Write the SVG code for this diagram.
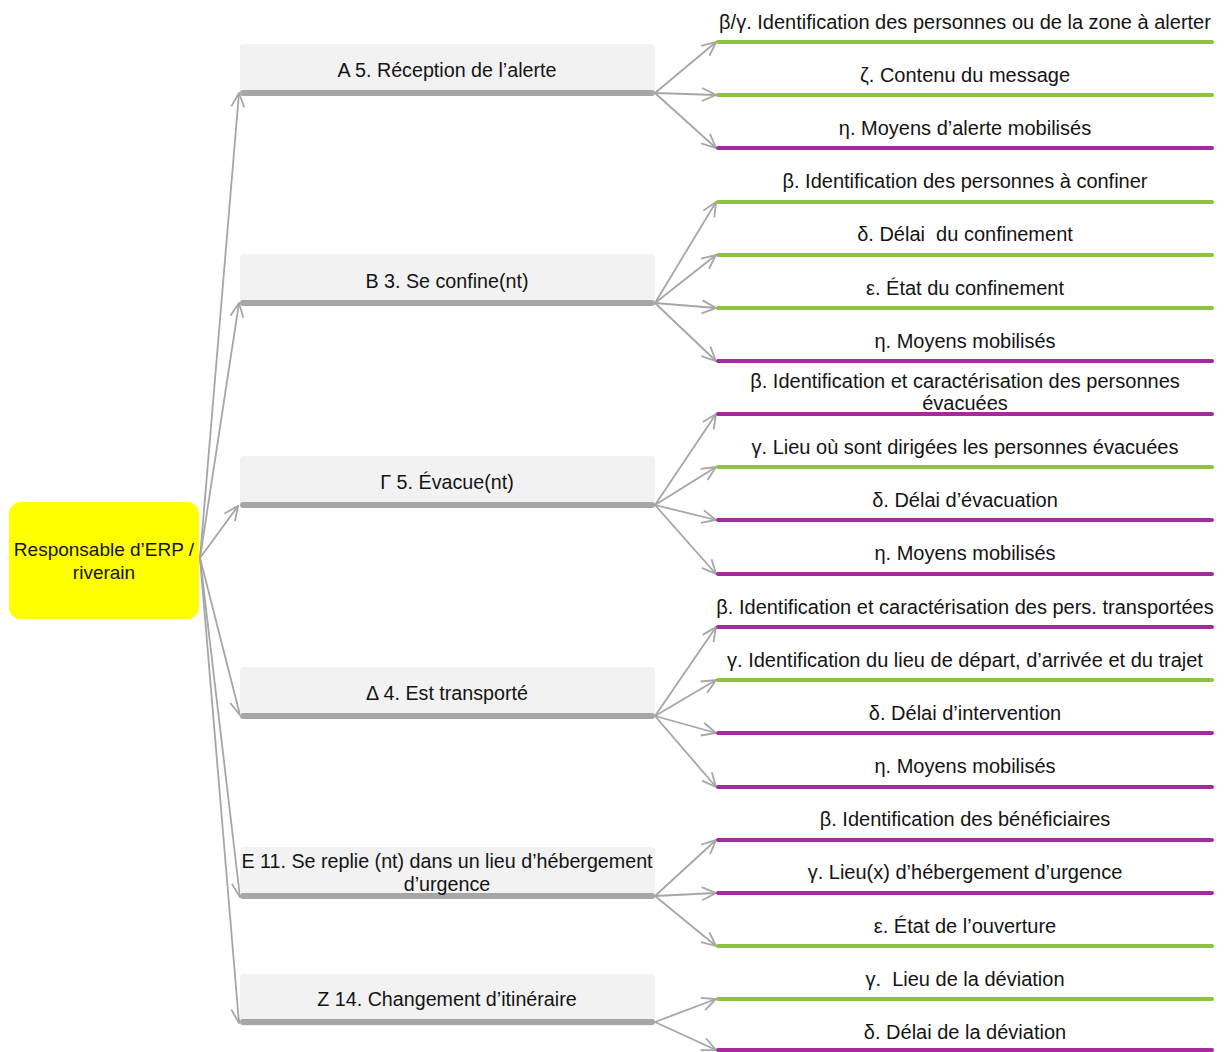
<svg xmlns="http://www.w3.org/2000/svg" width="1224" height="1052" viewBox="0 0 1224 1052">
<defs>
<marker id="arr" markerUnits="userSpaceOnUse" viewBox="0 0 16 16" refX="15" refY="8" markerWidth="16" markerHeight="16" orient="auto">
<path d="M1,1.5 L15,8 L1,14.5" fill="none" stroke="#a6a6a6" stroke-width="1.8"/>
</marker>
<style>
text{font-family:"Liberation Sans",Arial,sans-serif;fill:#141414;text-anchor:middle}
.lv1 rect.bg{fill:#f2f2f2}
.lv1 rect.bar{fill:#a6a6a6}
.lv1 text{font-size:19.7px}
.leaf text{font-size:20px}
.g{stroke:#8dc43f;stroke-width:4;stroke-linecap:round}
.p{stroke:#a32a9f;stroke-width:4;stroke-linecap:round}
.c line{stroke:#a6a6a6;stroke-width:1.8;marker-end:url(#arr)}
</style>
</defs>
<rect width="1224" height="1052" fill="#ffffff"/>

<g id="connectors" class="c">
<line x1="200" y1="558" x2="239" y2="93"/>
<line x1="200" y1="558" x2="239" y2="303"/>
<line x1="200" y1="558" x2="238" y2="506"/>
<line x1="200" y1="558" x2="240" y2="715"/>
<line x1="200" y1="558" x2="240" y2="897"/>
<line x1="200" y1="558" x2="239" y2="1023"/>

<line x1="655" y1="93" x2="716" y2="42"/>
<line x1="655" y1="93" x2="716" y2="95"/>
<line x1="655" y1="93" x2="716" y2="148"/>

<line x1="655" y1="303" x2="716" y2="202"/>
<line x1="655" y1="303" x2="716" y2="255"/>
<line x1="655" y1="303" x2="716" y2="308"/>
<line x1="655" y1="303" x2="716" y2="361"/>

<line x1="655" y1="505" x2="716" y2="414"/>
<line x1="655" y1="505" x2="716" y2="467"/>
<line x1="655" y1="505" x2="716" y2="520"/>
<line x1="655" y1="505" x2="716" y2="574"/>

<line x1="655" y1="716" x2="716" y2="627"/>
<line x1="655" y1="716" x2="716" y2="680"/>
<line x1="655" y1="716" x2="716" y2="733"/>
<line x1="655" y1="716" x2="716" y2="787"/>

<line x1="655" y1="896" x2="716" y2="840"/>
<line x1="655" y1="896" x2="716" y2="893"/>
<line x1="655" y1="896" x2="716" y2="946"/>

<line x1="655" y1="1022" x2="716" y2="999"/>
<line x1="655" y1="1022" x2="716" y2="1050"/>
</g>

<g id="root">
<rect x="9" y="502" width="190" height="117" rx="12" fill="#ffff00"/>
<text x="104" y="556" font-size="19">Responsable d’ERP /</text>
<text x="104" y="579" font-size="19">riverain</text>
</g>

<g id="nA" class="lv1"><rect class="bg" x="240" y="44" width="415" height="52" rx="4"/><rect class="bar" x="240" y="90" width="415" height="6" rx="3"/><text x="447" y="77">A 5. Réception de l’alerte</text></g>
<g id="nB" class="lv1"><rect class="bg" x="240" y="254" width="415" height="52" rx="4"/><rect class="bar" x="240" y="300" width="415" height="6" rx="3"/><text x="447" y="288">B 3. Se confine(nt)</text></g>
<g id="nG" class="lv1"><rect class="bg" x="240" y="456" width="415" height="52" rx="4"/><rect class="bar" x="240" y="502" width="415" height="6" rx="3"/><text x="447" y="489">Γ 5. Évacue(nt)</text></g>
<g id="nD" class="lv1"><rect class="bg" x="240" y="667" width="415" height="52" rx="4"/><rect class="bar" x="240" y="713" width="415" height="6" rx="3"/><text x="447" y="700">Δ 4. Est transporté</text></g>
<g id="nE" class="lv1"><rect class="bg" x="240" y="847" width="415" height="52" rx="4"/><rect class="bar" x="240" y="893" width="415" height="6" rx="3"/><text x="447" y="868">E 11. Se replie (nt) dans un lieu d’hébergement</text><text x="447" y="891">d’urgence</text></g>
<g id="nZ" class="lv1"><rect class="bg" x="240" y="974" width="415" height="52" rx="4"/><rect class="bar" x="240" y="1019" width="415" height="6" rx="3"/><text x="447" y="1006">Z 14. Changement d’itinéraire</text></g>

<g id="a1" class="leaf"><text x="965" y="29">β/γ. Identification des personnes ou de la zone à alerter</text><line class="g" x1="718" y1="42" x2="1212" y2="42"/></g>
<g id="a2" class="leaf"><text x="965" y="82">ζ. Contenu du message</text><line class="g" x1="718" y1="95" x2="1212" y2="95"/></g>
<g id="a3" class="leaf"><text x="965" y="135">η. Moyens d’alerte mobilisés</text><line class="p" x1="718" y1="148" x2="1212" y2="148"/></g>

<g id="b1" class="leaf"><text x="965" y="188">β. Identification des personnes à confiner</text><line class="g" x1="718" y1="202" x2="1212" y2="202"/></g>
<g id="b2" class="leaf"><text x="965" y="241" xml:space="preserve">δ. Délai  du confinement</text><line class="g" x1="718" y1="255" x2="1212" y2="255"/></g>
<g id="b3" class="leaf"><text x="965" y="295">ε. État du confinement</text><line class="g" x1="718" y1="308" x2="1212" y2="308"/></g>
<g id="b4" class="leaf"><text x="965" y="348">η. Moyens mobilisés</text><line class="p" x1="718" y1="361" x2="1212" y2="361"/></g>

<g id="g1" class="leaf"><text x="965" y="388">β. Identification et caractérisation des personnes</text><text x="965" y="410">évacuées</text><line class="p" x1="718" y1="414" x2="1212" y2="414"/></g>
<g id="g2" class="leaf"><text x="965" y="454">γ. Lieu où sont dirigées les personnes évacuées</text><line class="g" x1="718" y1="467" x2="1212" y2="467"/></g>
<g id="g3" class="leaf"><text x="965" y="507">δ. Délai d’évacuation</text><line class="p" x1="718" y1="520" x2="1212" y2="520"/></g>
<g id="g4" class="leaf"><text x="965" y="560">η. Moyens mobilisés</text><line class="p" x1="718" y1="574" x2="1212" y2="574"/></g>

<g id="d1" class="leaf"><text x="965" y="614">β. Identification et caractérisation des pers. transportées</text><line class="p" x1="718" y1="627" x2="1212" y2="627"/></g>
<g id="d2" class="leaf"><text x="965" y="667">γ. Identification du lieu de départ, d’arrivée et du trajet</text><line class="g" x1="718" y1="680" x2="1212" y2="680"/></g>
<g id="d3" class="leaf"><text x="965" y="720">δ. Délai d’intervention</text><line class="p" x1="718" y1="733" x2="1212" y2="733"/></g>
<g id="d4" class="leaf"><text x="965" y="773">η. Moyens mobilisés</text><line class="p" x1="718" y1="787" x2="1212" y2="787"/></g>

<g id="e1" class="leaf"><text x="965" y="826">β. Identification des bénéficiaires</text><line class="p" x1="718" y1="840" x2="1212" y2="840"/></g>
<g id="e2" class="leaf"><text x="965" y="879">γ. Lieu(x) d’hébergement d’urgence</text><line class="p" x1="718" y1="893" x2="1212" y2="893"/></g>
<g id="e3" class="leaf"><text x="965" y="933">ε. État de l’ouverture</text><line class="g" x1="718" y1="946" x2="1212" y2="946"/></g>

<g id="z1" class="leaf"><text x="965" y="986" xml:space="preserve">γ.  Lieu de la déviation</text><line class="g" x1="718" y1="999" x2="1212" y2="999"/></g>
<g id="z2" class="leaf"><text x="965" y="1039">δ. Délai de la déviation</text><line class="p" x1="718" y1="1050" x2="1212" y2="1050"/></g>
</svg>
